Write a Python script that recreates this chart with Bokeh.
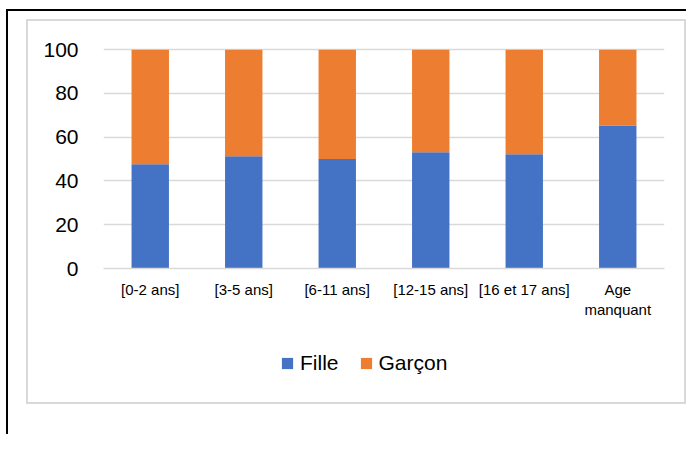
from bokeh.plotting import figure
from bokeh.models import ColumnDataSource, Range1d, FixedTicker, Legend, LegendItem, Column
from bokeh.embed import file_html
from bokeh.resources import INLINE

categories = ["[0-2 ans]", "[3-5 ans]", "[6-11 ans]", "[12-15 ans]", "[16 et 17 ans]", "Age\nmanquant"]
fille = [47.6, 51.3, 50.1, 53.1, 52.2, 65.3]
garcon = [52.4, 48.7, 49.9, 46.9, 47.8, 34.7]
y_ticks = [0, 20, 40, 60, 80, 100]
series_names = ["Fille", "Garçon"]
colors = ["#4472C4", "#ED7D31"]

source = ColumnDataSource(data=dict(cat=categories, Fille=fille, Garcon=garcon))

FONT = "Liberation Sans"

# main chart
p = figure(x_range=categories, y_range=Range1d(0, 101), width=656, height=310,
           output_backend="svg", toolbar_location=None,
           min_border_left=75, min_border_right=20, min_border_top=26, min_border_bottom=63)
p.outline_line_color = None
p.background_fill_color = "white"
p.border_fill_color = "white"

rs = p.vbar_stack(["Fille", "Garcon"], x="cat", width=0.4, color=colors, source=source,
                  line_color=None)

p.xgrid.grid_line_color = None
p.ygrid.grid_line_color = "#d9d9d9"
p.ygrid.grid_line_width = 1.5

p.yaxis.ticker = FixedTicker(ticks=y_ticks)
p.yaxis.axis_line_color = None
p.yaxis.major_tick_line_color = None
p.yaxis.minor_tick_line_color = None
p.yaxis.major_label_standoff = 19
p.yaxis.major_label_text_font = FONT
p.yaxis.major_label_text_font_size = "21px"
p.yaxis.major_label_text_color = "#000000"

p.xaxis.axis_line_color = "#d9d9d9"
p.xaxis.axis_line_width = 1.5
p.xaxis.major_tick_line_color = None
p.xaxis.major_tick_out = 0
p.xaxis.major_label_standoff = 12
p.xaxis.major_label_text_font = FONT
p.xaxis.major_label_text_font_size = "15px"
p.xaxis.major_label_text_color = "#000000"

# legend strip (proxy renderers lie outside the visible range; only their legend swatches show)
lg = figure(width=656, height=71, output_backend="svg", toolbar_location=None,
            x_range=Range1d(0, 1), y_range=Range1d(0, 1),
            x_axis_type=None, y_axis_type=None,
            min_border_left=0, min_border_right=0, min_border_top=0, min_border_bottom=0)
lg.outline_line_color = None
lg.xgrid.grid_line_color = None
lg.ygrid.grid_line_color = None
lr = [lg.vbar(x=[-5], top=[0], width=0.1, fill_color=c, line_color=None) for c in colors]

legend = Legend(items=[LegendItem(label=series_names[i], renderers=[lr[i]]) for i in range(2)],
                orientation="horizontal", location=(177, 27),
                glyph_width=14, glyph_height=14, label_standoff=6, spacing=20,
                padding=0, margin=0, border_line_color=None, background_fill_alpha=0,
                label_text_font=FONT, label_text_font_size="21px", label_text_color="#000000")
lg.add_layout(legend)

inner = Column(children=[p, lg], spacing=0, styles={"border": "2px solid #d9d9d9"})
col = Column(children=[inner], styles={"border-left": "2px solid black", "border-top": "2px solid black",
                                       "margin": "9px 0px 0px 6px",
                                       "padding": "8px 0px 30px 18px"})

open("out.html", "w").write(file_html(col, INLINE))
